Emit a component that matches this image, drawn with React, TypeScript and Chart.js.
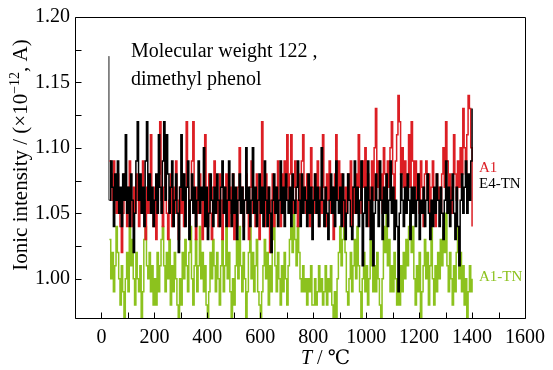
import { useEffect, useRef } from "react";
import { Chart, registerables } from "chart.js";

Chart.register(...registerables);

// Sampling grid of the recorded curves (°C)
const T_START = 30;
const T_STEP = 5;

// A1 (red), ×10^-12 A
const a1Values = [
  1.09,1.08,1.06,1.09,1.07,1.05,1.08,1.06,1.04,1.02,
  1.05,1.08,1.06,1.04,1.07,1.09,1.06,1.04,1.07,1.05,
  1.08,1.06,1.04,1.07,1.05,1.09,1.06,1.03,1.07,1.05,
  1.08,1.11,1.06,1.04,1.07,1.03,1.06,1.08,1.12,1.06,
  1.04,1.07,1.09,1.05,1.03,1.06,1.08,1.04,1.07,1.05,
  1.09,1.06,1.03,1.07,1.05,1.08,1.04,1.06,1.12,1.07,
  1.04,1.06,1.09,1.12,1.05,1.03,1.07,1.05,1.08,1.06,
  1.03,1.07,1.11,1.06,1.04,1.08,1.05,1.03,1.07,1.09,
  1.05,1.06,1.04,1.08,1.06,1.03,1.07,1.05,1.08,1.06,
  1.04,1.07,1.05,1.08,1.03,1.06,1.04,1.07,1.10,1.05,
  1.07,1.04,1.06,1.08,1.05,1.03,1.07,1.09,1.05,1.06,
  1.04,1.08,1.06,1.03,1.07,1.12,1.06,1.04,1.08,1.05,
  1.07,1.02,1.06,1.08,1.04,1.07,1.05,1.09,1.06,1.04,
  1.08,1.06,1.09,1.07,1.11,1.06,1.08,1.11,1.05,1.07,
  1.09,1.06,1.04,1.08,1.06,1.09,1.11,1.07,1.05,1.08,
  1.06,1.04,1.10,1.07,1.05,1.08,1.06,1.09,1.04,1.07,
  1.05,1.11,1.07,1.04,1.08,1.06,1.09,1.05,1.07,1.03,
  1.08,1.11,1.06,1.09,1.05,1.08,1.06,1.04,1.07,1.05,
  1.08,1.06,1.09,1.04,1.07,1.05,1.08,1.06,1.11,1.07,
  1.05,1.09,1.07,1.10,1.06,1.08,1.04,1.07,1.09,1.06,
  1.10,1.13,1.07,1.09,1.06,1.08,1.05,1.10,1.08,1.06,
  1.09,1.07,1.10,1.12,1.08,1.06,1.09,1.11,1.14,1.12,
  1.08,1.10,1.07,1.09,1.06,1.08,1.11,1.07,1.12,1.09,
  1.07,1.09,1.06,1.08,1.05,1.09,1.07,1.04,1.08,1.09,
  1.06,1.08,1.05,1.07,1.09,1.06,1.04,1.08,1.06,1.07,
  1.05,1.08,1.10,1.07,1.12,1.09,1.06,1.08,1.05,1.07,
  1.11,1.08,1.06,1.09,1.07,1.10,1.08,1.13,1.10,1.08,
  1.11,1.14,1.13,1.10,1.04,
];

// E4-TN (black)
const e4tnValues = [
  1.06,1.09,1.07,1.04,1.08,1.06,1.09,1.05,1.07,1.04,
  1.08,1.06,1.11,1.05,1.07,1.04,1.08,1.06,1.02,1.05,
  1.09,1.12,1.06,1.08,1.05,1.07,1.04,1.09,1.12,1.06,
  1.08,1.05,1.07,1.04,1.06,1.08,1.05,1.11,1.07,1.05,
  1.09,1.12,1.06,1.11,1.08,1.05,1.07,1.09,1.04,1.06,
  1.08,1.05,1.02,1.07,1.11,1.06,1.08,1.04,1.07,1.09,
  1.03,1.06,1.08,1.05,1.07,1.04,1.06,1.09,1.05,1.07,
  1.06,1.10,1.04,1.07,1.03,1.05,1.08,1.06,1.04,1.07,
  1.05,1.08,1.06,1.04,1.07,1.09,1.05,1.07,1.04,1.06,
  1.09,1.06,1.04,1.08,1.05,1.07,1.03,1.06,1.08,1.05,
  1.07,1.03,1.06,1.10,1.05,1.07,1.04,1.06,1.10,1.05,
  1.07,1.04,1.06,1.08,1.05,1.07,1.04,1.09,1.06,1.04,
  1.07,1.05,1.02,1.06,1.08,1.05,1.07,1.04,1.06,1.09,
  1.05,1.07,1.04,1.08,1.06,1.05,1.07,1.04,1.08,1.06,
  1.05,1.07,1.09,1.06,1.04,1.08,1.05,1.07,1.06,1.04,
  1.08,1.05,1.07,1.03,1.06,1.08,1.05,1.07,1.04,1.06,
  1.10,1.06,1.04,1.07,1.05,1.03,1.06,1.08,1.05,1.07,
  1.04,1.09,1.06,1.05,1.07,1.04,1.08,1.06,1.03,1.05,
  1.08,1.06,1.04,1.03,1.07,1.09,1.05,1.07,1.04,1.06,
  1.09,1.01,1.05,1.07,1.04,1.09,1.06,1.03,1.07,1.01,
  1.05,1.08,1.06,1.04,1.09,1.06,1.03,1.07,1.05,1.08,
  1.04,1.06,1.09,1.05,1.07,1.03,1.06,1.04,0.99,1.05,
  1.08,1.06,1.04,1.07,1.05,1.08,1.06,1.03,1.07,1.05,
  1.07,1.04,1.06,1.08,1.03,1.06,1.05,1.07,1.04,1.06,
  1.08,1.05,1.03,1.06,1.04,1.07,1.05,1.08,1.06,1.04,
  1.07,1.05,1.03,1.06,1.09,1.05,1.07,1.04,1.06,1.08,
  1.05,1.03,1.07,1.04,1.01,1.06,1.08,1.05,1.07,1.09,
  1.05,1.08,1.06,1.09,1.13,
];

// A1-TN (green)
const a1tnValues = [
  1.03,1.00,1.02,0.99,1.01,1.04,1.02,1.00,0.98,1.01,
  0.99,0.97,1.00,1.02,0.99,1.04,1.01,1.03,1.00,0.98,
  1.02,1.00,0.99,1.01,0.97,0.99,1.03,1.04,1.01,1.00,
  1.02,0.99,1.01,0.98,1.00,0.98,1.02,0.99,1.01,1.03,
  1.04,1.01,0.99,1.02,1.00,1.03,0.98,1.01,0.99,1.02,
  1.00,0.98,0.97,1.00,0.98,1.02,1.00,1.03,1.01,0.99,
  1.02,1.04,1.00,0.98,1.01,1.03,0.99,1.01,1.04,1.00,
  1.02,0.99,1.01,0.98,0.97,0.99,1.02,1.00,1.03,1.01,
  0.99,1.02,1.00,0.98,1.01,1.03,0.99,1.01,1.04,1.00,
  1.02,0.99,0.97,1.00,0.98,1.01,1.03,1.00,1.04,1.01,
  0.99,1.02,1.00,0.97,0.99,1.02,1.04,1.00,1.02,0.99,
  1.01,1.03,0.99,0.98,0.97,0.99,1.01,1.03,1.00,1.02,
  0.98,1.01,0.99,1.03,1.05,1.01,0.99,1.02,1.00,0.98,
  1.01,0.99,1.02,1.00,0.98,1.01,1.03,1.04,1.02,1.05,
  1.03,1.01,1.04,1.02,1.00,0.99,1.01,0.99,1.00,0.98,
  1.00,0.99,1.01,0.98,0.98,1.00,0.98,0.99,1.01,0.99,
  1.00,0.98,0.99,1.01,0.98,1.00,0.99,1.01,0.98,0.97,
  0.99,0.97,1.00,1.02,1.04,1.01,1.03,1.04,1.02,0.99,
  0.98,1.00,1.02,0.99,1.01,1.03,1.00,1.04,1.01,0.99,
  0.97,1.00,1.02,0.99,1.01,0.98,1.00,1.03,1.01,0.99,
  1.01,0.99,1.02,1.00,0.98,0.97,1.00,1.04,1.02,1.05,
  1.01,1.03,0.99,1.01,0.99,1.02,1.00,0.98,1.00,0.98,
  1.01,0.99,1.02,1.00,1.03,1.01,1.04,1.05,1.02,1.04,
  1.00,0.98,1.01,0.99,1.02,0.97,0.99,1.01,1.03,1.00,
  1.02,0.98,1.01,1.04,1.00,0.98,1.01,0.99,1.02,1.00,
  1.03,1.01,1.04,1.02,1.05,1.01,0.99,1.02,1.00,0.98,
  1.01,0.99,1.02,1.04,1.00,1.02,0.99,1.01,0.98,1.00,
  0.97,0.99,1.01,0.99,1.00,
];

// Start-up transient (grey spike)
const spikeT = [28, 28];
const spikeValues = [1.17, 1.06];

// Tick labels
const xTickLabels = [0, 200, 400, 600, 800, 1000, 1200, 1400, 1600];
const yTickLabels = [1.0, 1.05, 1.1, 1.15, 1.2];

const SERIF = '"Liberation Serif", "Times New Roman", "DejaVu Serif", serif';
const RED = "#dc1e24";
const GREEN = "#8cc21e";

const toPoints = (vals: number[]) =>
  vals.map((v, i) => ({ x: T_START + i * T_STEP, y: v }));

const near = (v: number, step: number) =>
  Math.abs(v / step - Math.round(v / step)) < 1e-6;

const framePlugin = {
  id: "frame",
  afterDraw(chart: any) {
    const { ctx, chartArea } = chart;
    const L = Math.round(chartArea.left) + 0.5;
    const R = Math.round(chartArea.right) + 0.5;
    const T = Math.round(chartArea.top) + 0.5;
    const B = Math.round(chartArea.bottom) + 0.5;
    const xs = chart.scales.x;
    const ys = chart.scales.y;
    ctx.save();
    ctx.strokeStyle = "#000";
    ctx.lineWidth = 1;
    ctx.beginPath();
    ctx.moveTo(L, T);
    ctx.lineTo(R, T);
    ctx.moveTo(R, T);
    ctx.lineTo(R, B);
    ctx.moveTo(L, B);
    ctx.lineTo(R, B);
    ctx.moveTo(L, T);
    ctx.lineTo(L, B);
    ctx.stroke();
    // inward tick marks
    ctx.beginPath();
    xs.ticks.forEach((t: any) => {
      if (!near(t.value, 100)) return;
      const px = Math.round(xs.getPixelForValue(t.value)) + 0.5;
      ctx.moveTo(px, B);
      ctx.lineTo(px, B - 6);
    });
    ys.ticks.forEach((t: any) => {
      if (!near(t.value, 0.025)) return;
      const py = Math.round(ys.getPixelForValue(t.value)) + 0.5;
      ctx.moveTo(L, py);
      ctx.lineTo(L + 6, py);
    });
    ctx.stroke();

    // annotations
    ctx.fillStyle = "#000";
    ctx.textBaseline = "alphabetic";
    ctx.textAlign = "left";
    ctx.font = `20px ${SERIF}`;
    ctx.fillText("Molecular weight 122 ,", 131, 57);
    ctx.fillText("dimethyl phenol", 131, 85);

    ctx.font = `15px ${SERIF}`;
    ctx.fillStyle = RED;
    ctx.fillText("A1", 479, 172);
    ctx.fillStyle = "#000";
    ctx.fillText("E4-TN", 479, 188);
    ctx.fillStyle = GREEN;
    ctx.fillText("A1-TN", 479, 281);

    // x title
    ctx.fillStyle = "#000";
    ctx.font = `italic 20px ${SERIF}`;
    const tW = ctx.measureText("T").width;
    const xStart = 301;
    ctx.fillText("T", xStart, 364);
    ctx.font = `20px ${SERIF}`;
    ctx.fillText(" / \u2103", xStart + tW, 364);

    // y title (rotated)
    ctx.save();
    ctx.translate(27, 155);
    ctx.rotate(-Math.PI / 2);
    const p1 = "Ionic intensity / (\u00d710";
    const sup = "\u221212";
    const p2 = ", A)";
    ctx.font = `21px ${SERIF}`;
    const w1 = ctx.measureText(p1).width;
    const w3 = ctx.measureText(p2).width;
    ctx.font = `14px ${SERIF}`;
    const w2 = ctx.measureText(sup).width;
    const total = w1 + w2 + w3;
    let cx = -total / 2;
    ctx.font = `21px ${SERIF}`;
    ctx.fillText(p1, cx, 0);
    cx += w1;
    ctx.font = `14px ${SERIF}`;
    ctx.fillText(sup, cx, -8);
    cx += w2;
    ctx.font = `21px ${SERIF}`;
    ctx.fillText(p2, cx, 0);
    ctx.restore();

    ctx.restore();
  },
};

export default function App() {
  const ref = useRef<HTMLCanvasElement | null>(null);
  useEffect(() => {
    if (!ref.current) return;
    const line = (label: string, vals: number[], color: string) => ({
      label,
      data: toPoints(vals),
      borderColor: color,
      borderWidth: 1.5,
      stepped: true,
      pointRadius: 0,
    });
    const chart = new Chart(ref.current, {
      type: "line",
      data: {
        datasets: [
          line("E4-TN", e4tnValues, "#000"),
          line("A1", a1Values, RED),
          line("A1-TN", a1tnValues, GREEN),
          {
            label: "start",
            data: spikeT.map((t, i) => ({ x: t, y: spikeValues[i] })),
            borderColor: "#777",
            borderWidth: 1,
            pointRadius: 0,
          },
        ],
      },
      options: {
        animation: false,
        responsive: false,
        events: [],
        layout: { padding: { left: 0, right: 24, top: 16, bottom: 0 } },
        plugins: { legend: { display: false }, tooltip: { enabled: false } },
        scales: {
          x: {
            type: "linear",
            min: -100,
            max: 1600,
            afterFit: (s: any) => {
              s.height = 52;
            },
            grid: { display: false, drawTicks: false },
            border: { display: false },
            ticks: {
              stepSize: 100,
              autoSkip: false,
              maxRotation: 0,
              padding: 8,
              color: "#000",
              font: { family: SERIF, size: 20 },
              callback: (v: any) => (xTickLabels.includes(Number(v)) ? String(v) : ""),
            },
          },
          y: {
            type: "linear",
            min: 0.97,
            max: 1.2,
            afterFit: (s: any) => {
              s.width = 75;
            },
            grid: { display: false, drawTicks: false },
            border: { display: false },
            ticks: {
              stepSize: 0.025,
              autoSkip: false,
              padding: 5,
              color: "#000",
              font: { family: SERIF, size: 20 },
              callback: (v: any) => {
                const n = Number(v);
                return yTickLabels.some((l) => Math.abs(l - n) < 1e-6) ? n.toFixed(2) : "";
              },
            },
          },
        },
      },
      plugins: [framePlugin],
    });
    return () => chart.destroy();
  }, []);
  return (
    <div style={{ position: "fixed", left: 0, top: 0, width: 553, height: 370, background: "#fff" }}>
      <canvas ref={ref} width={553} height={370} />
    </div>
  );
}
